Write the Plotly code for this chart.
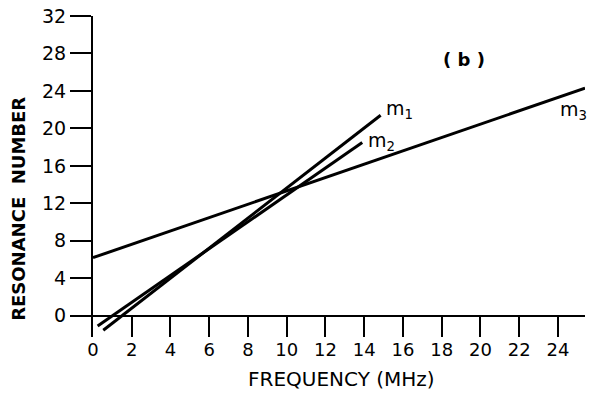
import plotly.graph_objects as go

# values (frequency in MHz, resonance number)
freq_m1 = [0.53, 14.85]
num_m1 = [-1.55, 21.4]
freq_m2 = [0.24, 13.9]
num_m2 = [-1.1, 18.5]
freq_m3 = [0.0, 25.4]
num_m3 = [6.2, 24.3]

x_ticks = list(range(0, 25, 2))
y_ticks = list(range(0, 33, 4))

font = "DejaVu Sans, Arial, sans-serif"

fig = go.Figure()
for fx, fy in [(freq_m1, num_m1), (freq_m2, num_m2), (freq_m3, num_m3)]:
    fig.add_trace(go.Scatter(x=fx, y=fy, mode="lines",
                             line=dict(color="black", width=3), hoverinfo="skip"))

# curve labels
labels = [
    (15.0, 22.0, "m<sub>1</sub>"),
    (14.1, 18.6, "m<sub>2</sub>"),
    (24.0, 21.9, "m<sub>3</sub>"),
]
for lx, ly, txt in labels:
    fig.add_annotation(x=lx, y=ly, text=txt, showarrow=False, xanchor="left",
                       font=dict(family=font, size=19, color="black"))

fig.add_annotation(x=19.15, y=27.4, text="<b>( b )</b>", showarrow=False,
                   font=dict(family=font, size=18, color="black"))

# axis titles
fig.add_annotation(xref="paper", yref="paper", x=0.506, y=-0.132,
                   xanchor="center", yanchor="middle",
                   text="FREQUENCY (MHz)", showarrow=False,
                   font=dict(family=font, size=20, color="black"))
fig.add_annotation(xref="paper", yref="paper", x=-0.152, y=0.40,
                   xanchor="center", yanchor="middle",
                   text="<b>RESONANCE&nbsp;&nbsp;NUMBER</b>", textangle=-90,
                   showarrow=False, font=dict(family=font, size=18, color="black"))

# page body adds an 8px margin, so the figure is 8px smaller each way
fig.update_layout(
    width=592, height=387,
    margin=dict(l=85, r=15, t=8, b=58),
    paper_bgcolor="white", plot_bgcolor="white",
    showlegend=False,
    font=dict(family=font, size=18, color="black"),
    xaxis=dict(range=[0, 25.4], tickvals=x_ticks, ticks="inside", ticklen=21,
               tickwidth=2, tickcolor="black", showline=False, showgrid=False,
               zeroline=False, automargin=False, tickfont=dict(size=18)),
    yaxis=dict(range=[-2.27, 32.0], tickvals=y_ticks, ticks="outside", ticklen=21,
               tickwidth=2, tickcolor="black", showline=True, linecolor="black",
               linewidth=2, showgrid=False, zeroline=True, zerolinecolor="black",
               zerolinewidth=2, automargin=False, ticklabeloverflow="allow",
               tickfont=dict(size=19)),
)

fig.write_html("out.html")
